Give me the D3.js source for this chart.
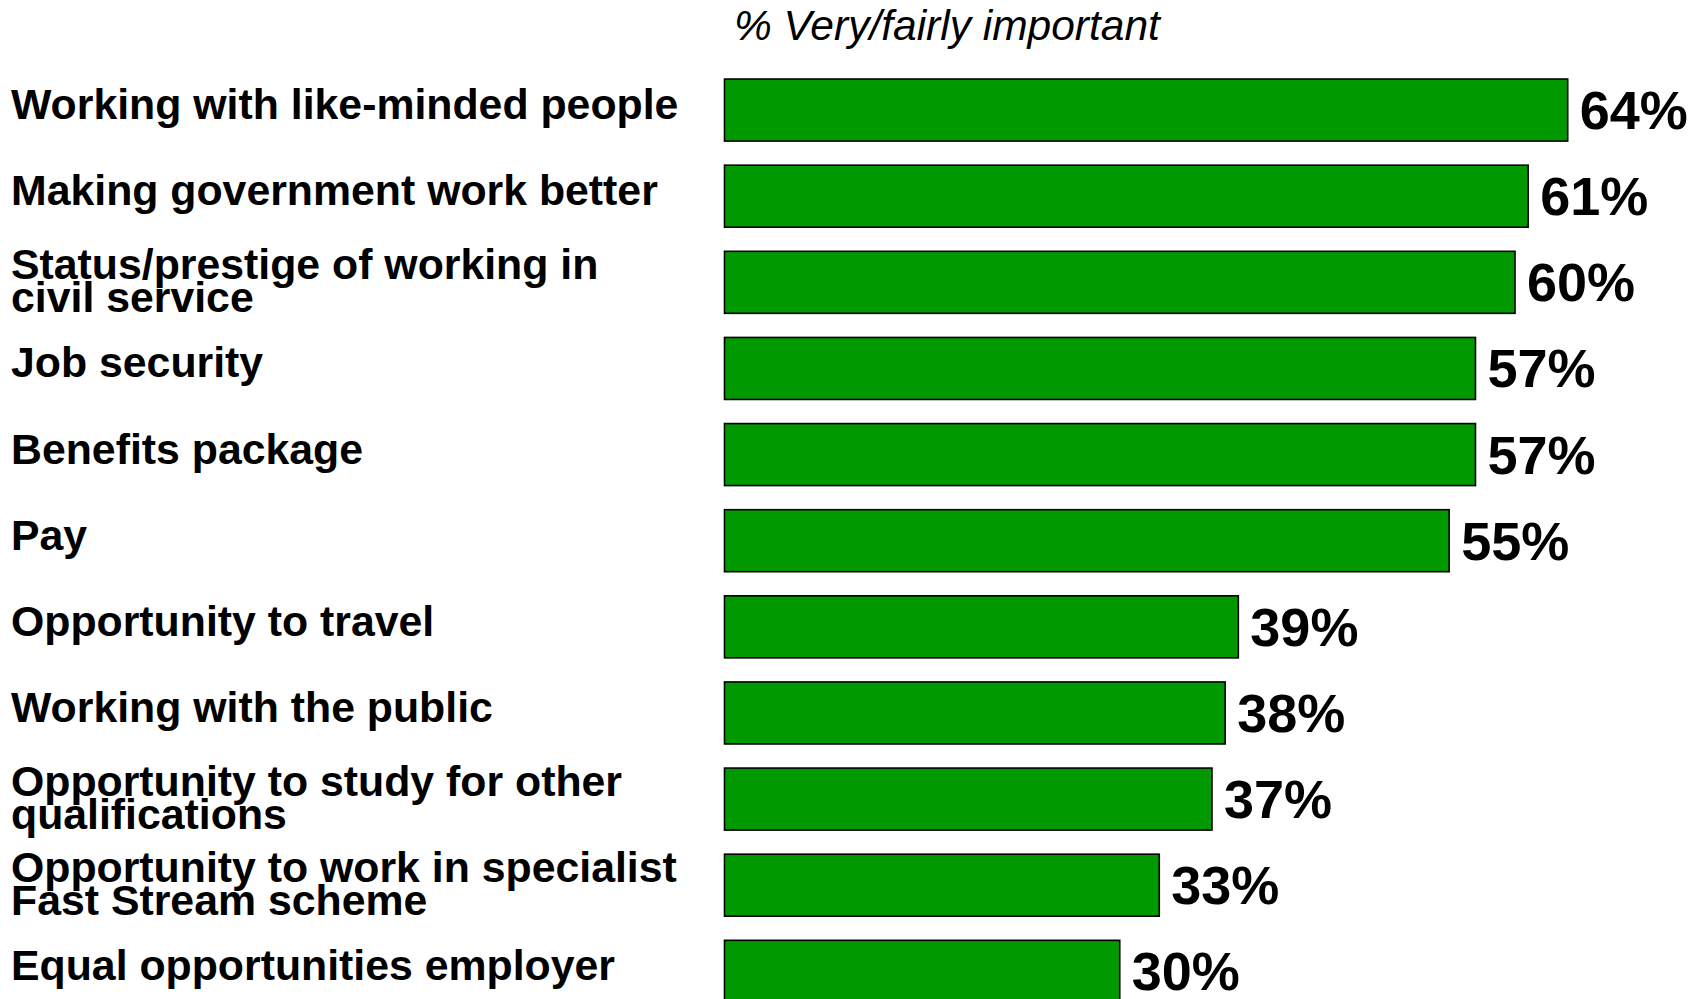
<!DOCTYPE html>
<html>
<head>
<meta charset="utf-8">
<script src="https://cdn.jsdelivr.net/npm/d3@7"></script>
<style>
  html, body { margin: 0; padding: 0; background: #ffffff; }
  svg { display: block; }
  text { font-family: "Liberation Sans", Arial, Helvetica, sans-serif; fill: #000; }
</style>
</head>
<body>
<svg id="chart" width="1697" height="999"></svg>
<script>
// Reasons rated very/fairly important (label lines per category)
const categories = [
  ["Working with like-minded people"],
  ["Making government work better"],
  ["Status/prestige of working in", "civil service"],
  ["Job security"],
  ["Benefits package"],
  ["Pay"],
  ["Opportunity to travel"],
  ["Working with the public"],
  ["Opportunity to study for other", "qualifications"],
  ["Opportunity to work in specialist", "Fast Stream scheme"],
  ["Equal opportunities employer"]
];
const values = [64, 61, 60, 57, 57, 55, 39, 38, 37, 33, 30];
const title = "% Very/fairly important";

const svg = d3.select("#chart");

const data = categories.map((lines, i) => ({ key: lines.join(" "), lines, value: values[i] }));

const x = d3.scaleLinear().domain([0, 64]).range([724.5, 1567.7]);
const y = d3.scaleBand()
  .domain(data.map(d => d.key))
  .range([67, 1014.4])
  .paddingInner(0.28)
  .paddingOuter(0.14);

// Title above the bars
svg.append("text")
  .attr("x", 734)
  .attr("y", 40)
  .attr("font-size", 42.5)
  .attr("font-style", "italic")
  .text(title);

// Bars
svg.append("g")
  .selectAll("rect")
  .data(data)
  .join("rect")
  .attr("x", x(0))
  .attr("y", d => y(d.key))
  .attr("width", d => x(d.value) - x(0))
  .attr("height", y.bandwidth())
  .attr("fill", "#009900")
  .attr("stroke", "#000")
  .attr("stroke-width", 1.6);

// Value labels at bar ends
svg.append("g")
  .selectAll("text")
  .data(data)
  .join("text")
  .attr("x", d => x(d.value) + 12)
  .attr("y", d => y(d.key) + y.bandwidth() / 2 + 19)
  .attr("font-size", 54)
  .attr("font-weight", "bold")
  .text(d => d.value + "%");

// Category labels on the left
const lineGap = 33;
const cat = svg.append("g")
  .selectAll("text")
  .data(data)
  .join("text")
  .attr("x", 11)
  .attr("y", d => y(d.key) + y.bandwidth() / 2 + (d.lines.length > 1 ? -3 : 9))
  .attr("font-size", 42.8)
  .attr("font-weight", "bold");

cat.selectAll("tspan")
  .data(d => d.lines)
  .join("tspan")
  .attr("x", 11)
  .attr("dy", (l, i) => i === 0 ? 0 : lineGap)
  .text(l => l);
</script>
</body>
</html>
